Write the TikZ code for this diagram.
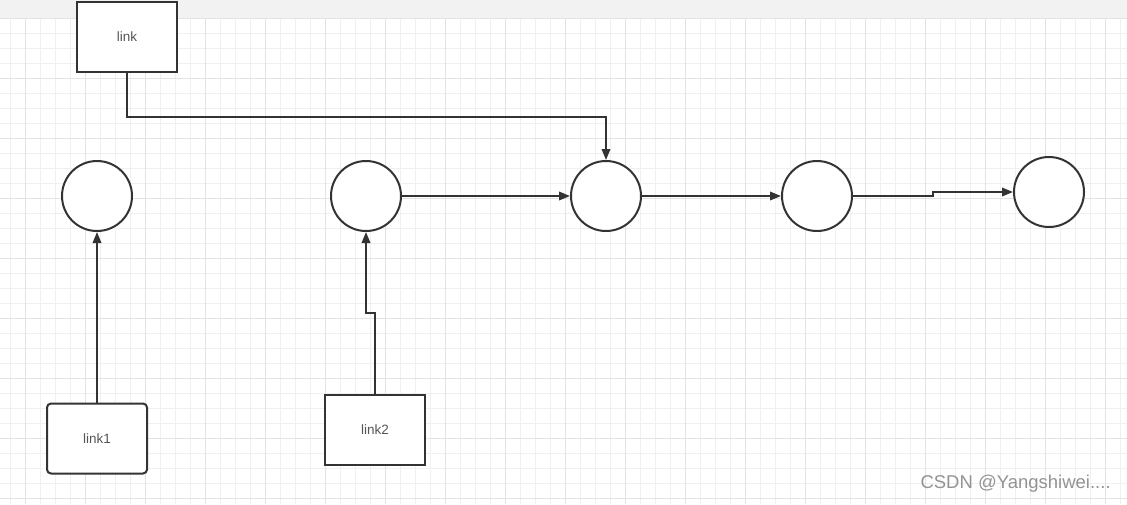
\documentclass[tikz,border=0pt]{standalone}
\usepackage{fontspec}
\setmainfont{Liberation Sans}
\usetikzlibrary{arrows.meta, positioning, calc}
\definecolor{lnDark}{HTML}{333333}
\definecolor{lnText}{HTML}{555555}
\definecolor{gridMinor}{HTML}{F0F0F0}
\definecolor{gridMajor}{HTML}{E3E3E3}
\definecolor{bandGray}{HTML}{F2F2F2}

\begin{document}
\begin{tikzpicture}[x=1pt, y=-1pt,
  box/.style={draw=lnDark, fill=white, line width=2pt, minimum width=100pt,
              minimum height=70pt, inner sep=0pt, font=\fontsize{13.5}{16}\selectfont, text=lnText},
  elem/.style={draw=lnDark, fill=white, line width=2pt, circle, minimum size=70pt, inner sep=0pt},
  conn/.style={draw=lnDark, line width=2pt, -{Triangle[length=11pt,width=8.5pt]}}]
  \useasboundingbox (0,0) rectangle (1127,504);
  % tlo z siatka
  \fill[white] (0,0) rectangle (1127,504);
  \fill[bandGray] (0,0) rectangle (1127,18);
  \foreach \x in {10,25,...,1120}{\draw[gridMinor, line width=1pt] (\x,18)--(\x,504);}
  \foreach \y in {33,48,...,500}{\draw[gridMinor, line width=1pt] (0,\y)--(1127,\y);}
  \foreach \x in {25,85,...,1120}{\draw[gridMajor, line width=1pt] (\x,18)--(\x,504);}
  \foreach \y in {18,78,...,500}{\draw[gridMajor, line width=1pt] (0,\y)--(1127,\y);}
  % wezly listy
  \node[elem] (c1) at (97,196) {};
  \node[elem] (c2) at (366,196) {};
  \node[elem] (c3) at (606,196) {};
  \node[elem] (c4) at (817,196) {};
  \node[elem] (c5) at (1049,192) {};
  % wskazniki
  \node[box] (link) at (127,37) {link};
  \node[box, rounded corners=4pt] (link1) at (97,438.5) {link1};
  \node[box] (link2) at (375,430) {link2};
  % polaczenia
  \coordinate (bendA) at (127,117);
  \coordinate (bendB) at (375,313);
  \coordinate (bendC) at (933,196);
  \draw[conn] (link.south) -- (bendA) -| (c3.north);
  \draw[conn] (link1.north) -- (c1.south);
  \draw[conn] (link2.north) -- (bendB) -| (c2.south);
  \draw[conn] (c2.east) -- (c3.west);
  \draw[conn] (c3.east) -- (c4.west);
  \draw[conn] (c4.east) -- (bendC) |- (c5.west);
  % znak wodny
  \node[font=\fontsize{18.5}{22}\selectfont, text=gray!85, anchor=west] (mark) at (917,484) {CSDN @Yangshiwei....};
\end{tikzpicture}
\end{document}
